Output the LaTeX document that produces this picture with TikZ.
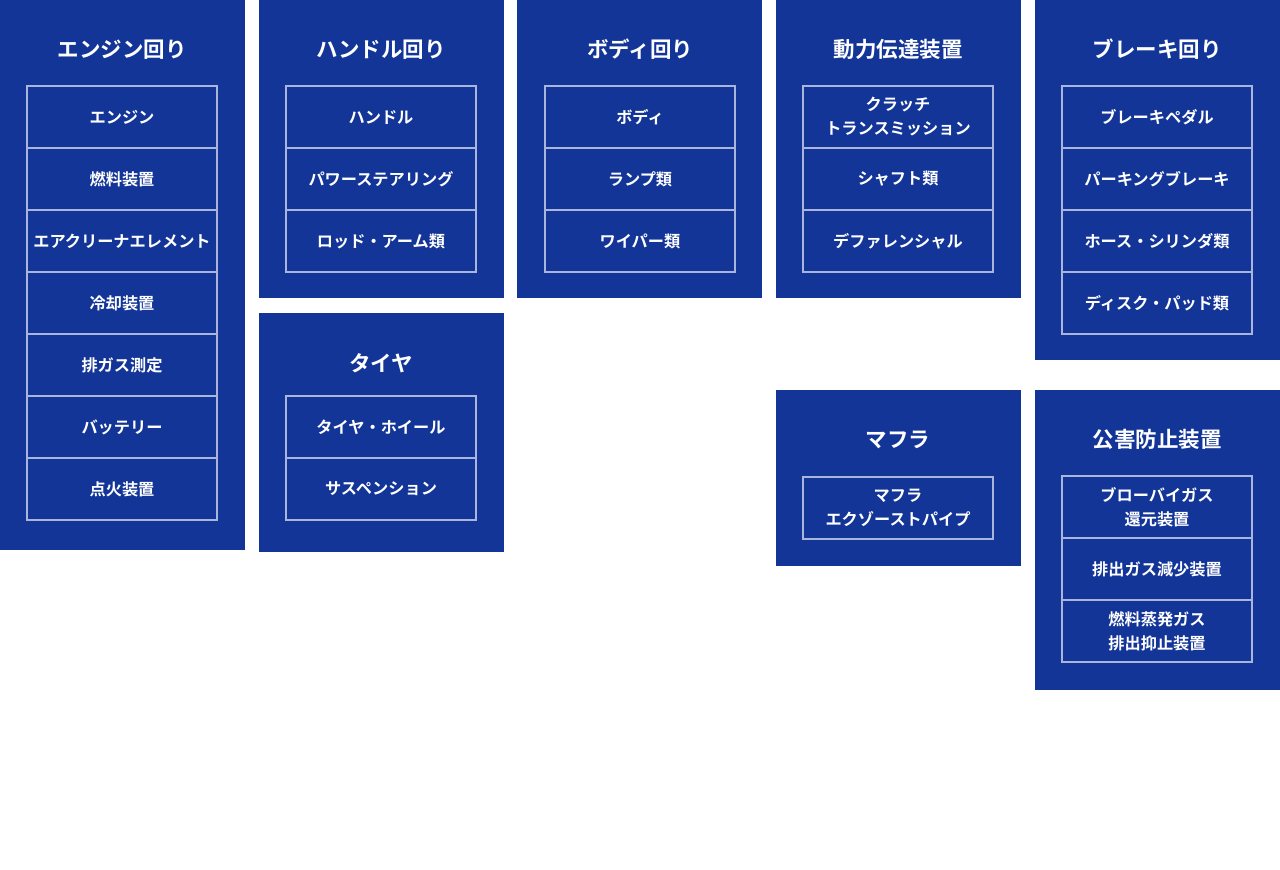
\documentclass[tikz,border=0pt]{standalone}
\usepackage{fontspec}
\setmainfont{Noto Sans CJK JP}[BoldFont={Noto Sans CJK JP Bold}]
\definecolor{panelblue}{HTML}{133597}
\definecolor{itemline}{HTML}{A9B5DB}
\tikzset{
  panel/.style={fill=panelblue, draw=none, anchor=north west, inner sep=0pt},
  ttl/.style={text=white, font=\bfseries\fontsize{21.5}{25}\selectfont, inner sep=0pt},
  item/.style={draw=itemline, line width=2pt, text=white, minimum width=190pt, minimum height=62pt,
    inner sep=0pt, align=center, font=\bfseries\fontsize{16.2}{24}\selectfont},
}
\begin{document}
\begin{tikzpicture}[x=1pt,y=-1pt]
\useasboundingbox (0,0) rectangle (1280,870);
\fill[white] (0,0) rectangle (1280,870);
% panels
\node[panel, minimum width=245pt, minimum height=550pt] (p1) at (0,0) {};
\node[panel, minimum width=245pt, minimum height=298pt] (p2) at (259,0) {};
\node[panel, minimum width=245pt, minimum height=239pt] (p2b) at (259,313) {};
\node[panel, minimum width=245pt, minimum height=298pt] (p3) at (517,0) {};
\node[panel, minimum width=245pt, minimum height=298pt] (p4) at (776,0) {};
\node[panel, minimum width=245pt, minimum height=176pt] (p4b) at (776,390) {};
\node[panel, minimum width=245pt, minimum height=360pt] (p5) at (1035,0) {};
\node[panel, minimum width=245pt, minimum height=300pt] (p5b) at (1035,390) {};
% titles
\node[ttl] (t1) at (122,49.5) {エンジン回り};
\node[ttl] (t2) at (381,49.5) {ハンドル回り};
\node[ttl] (t2b) at (381,363.5) {タイヤ};
\node[ttl] (t3) at (640,49.5) {ボディ回り};
\node[ttl] (t4) at (898,49.5) {動力伝達装置};
\node[ttl] (t4b) at (898,439.5) {マフラ};
\node[ttl] (t5) at (1157,49.5) {ブレーキ回り};
\node[ttl] (t5b) at (1157,439.5) {公害防止装置};
% column 1
\node[item] (a1) at (122,117) {エンジン};
\node[item] (a2) at (122,179) {燃料装置};
\node[item] (a3) at (122,241) {エアクリーナエレメント};
\node[item] (a4) at (122,303) {冷却装置};
\node[item] (a5) at (122,365) {排ガス測定};
\node[item] (a6) at (122,427) {バッテリー};
\node[item] (a7) at (122,489) {点火装置};
% column 2
\node[item] (b1) at (381,117) {ハンドル};
\node[item] (b2) at (381,179) {パワーステアリング};
\node[item] (b3) at (381,241) {ロッド・アーム類};
\node[item] (b4) at (381,427) {タイヤ・ホイール};
\node[item] (b5) at (381,489) {サスペンション};
% column 3
\node[item] (c1) at (640,117) {ボディ};
\node[item] (c2) at (640,179) {ランプ類};
\node[item] (c3) at (640,241) {ワイパー類};
% column 4
\node[item] (d1) at (898,117) {クラッチ\\トランスミッション};
\node[item] (d2) at (898,179) {シャフト類};
\node[item] (d3) at (898,241) {デファレンシャル};
\node[item] (d4) at (898,507.5) {マフラ\\エクゾーストパイプ};
% column 5
\node[item] (e1) at (1157,117) {ブレーキペダル};
\node[item] (e2) at (1157,179) {パーキングブレーキ};
\node[item] (e3) at (1157,241) {ホース・シリンダ類};
\node[item] (e4) at (1157,303) {ディスク・パッド類};
\node[item] (e5) at (1157,507) {ブローバイガス\\還元装置};
\node[item] (e6) at (1157,569) {排出ガス減少装置};
\node[item] (e7) at (1157,631) {燃料蒸発ガス\\排出抑止装置};
\end{tikzpicture}
\end{document}
